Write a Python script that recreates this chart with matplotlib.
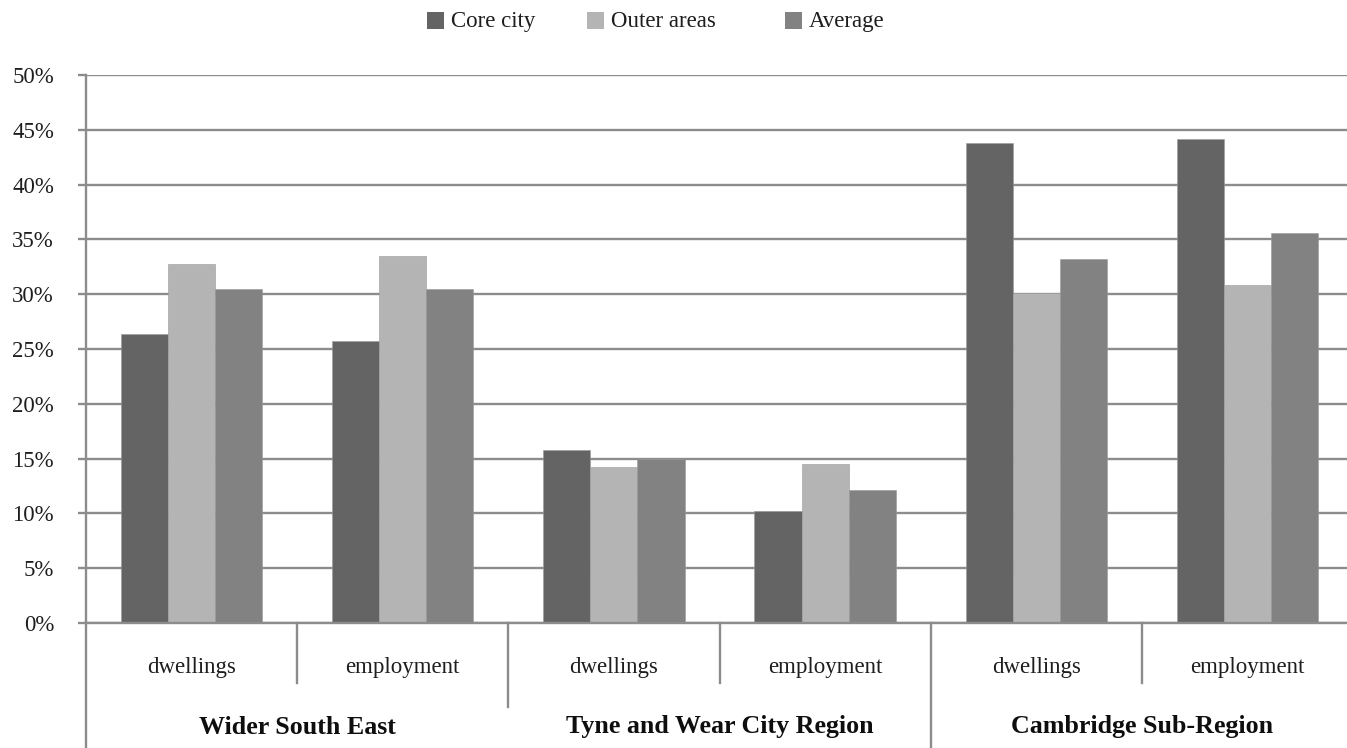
import matplotlib
matplotlib.use("Agg")
import matplotlib.pyplot as plt
from matplotlib.patches import Rectangle
import numpy as np

plt.rcParams['font.family'] = ['Liberation Serif', 'DejaVu Serif']

regions = ["Wider South East", "Tyne and Wear City Region", "Cambridge Sub-Region"]
measures = ["dwellings", "employment"]
series = ["Core city", "Outer areas", "Average"]
core_city = [26.4, 25.7, 15.8, 10.2, 43.8, 44.2]
outer_areas = [32.8, 33.5, 14.2, 14.5, 30.1, 30.8]
average = [30.5, 30.5, 15.0, 12.1, 33.2, 35.6]
yticks = [0, 5, 10, 15, 20, 25, 30, 35, 40, 45, 50]

colors = ["#646464", "#b4b4b4", "#828282"]
grid_c = "#8c8c8c"

W, H = 1347, 748
fig = plt.figure(figsize=(W / 100, H / 100), dpi=100)
left_px, right_px, top_px, bot_px = 86, 1353, 75, 623
ax = fig.add_axes([left_px / W, (H - bot_px) / H, (right_px - left_px) / W, (bot_px - top_px) / H])

n = len(core_city)
x = np.arange(n) + 0.5
bw = 0.223
for i, (vals, c) in enumerate(zip([core_city, outer_areas, average], colors)):
    ax.bar(x + (i - 1) * bw, vals, width=bw, color=c, edgecolor="#9a9a9a", linewidth=0.4, zorder=3, label=series[i])

ax.set_xlim(0, n)
ax.set_ylim(0, 50)
ax.set_yticks(yticks)
ax.set_yticklabels([f"{v}%" for v in yticks], fontsize=16.5, color="#1e1e1e")
ax.yaxis.grid(True, color=grid_c, linewidth=1.7, zorder=1)
ax.tick_params(axis='y', length=6, width=1.7, color=grid_c, pad=17)
ax.set_xticks([])
for s in ["top", "right", "bottom"]:
    ax.spines[s].set_visible(False)
ax.spines["left"].set_color(grid_c)
ax.spines["left"].set_linewidth(1.7)
ax.axhline(0, color=grid_c, linewidth=1.7, zorder=4, clip_on=False)

trans = ax.get_xaxis_transform()
ah = bot_px - top_px
# left axis continues through category area
ax.plot([0, 0], [0, -(748 - bot_px) / ah], transform=trans, color=grid_c, lw=1.7, clip_on=False)
# separators between measures
for k in [1, 3, 5]:
    ax.plot([k, k], [0, -60 / ah], transform=trans, color=grid_c, lw=1.7, clip_on=False)
# separators between regions
ax.plot([2, 2], [0, -84 / ah], transform=trans, color=grid_c, lw=1.7, clip_on=False)
ax.plot([4, 4], [0, -(748 - bot_px) / ah], transform=trans, color=grid_c, lw=1.7, clip_on=False)

for i in range(n):
    ax.text(x[i], -(668 - bot_px) / ah, measures[i % 2], transform=trans, ha="center", va="center", fontsize=16.5, color="#1e1e1e")
for j, r in enumerate(regions):
    ax.text(2 * j + 1, -(727 - bot_px) / ah, r, transform=trans, ha="center", va="center", fontsize=18.7, fontweight="bold", color="#0e0e0e")

# legend
leg_sq = [427, 587, 785]
for sx, c, lab in zip(leg_sq, colors, series):
    fig.patches.append(Rectangle((sx / W, (H - 29) / H), 17 / W, 17 / H, transform=fig.transFigure, facecolor=c, edgecolor="none"))
    fig.text((sx + 24) / W, (H - 27) / H, lab, ha="left", va="baseline", fontsize=16.5, color="#1e1e1e")

fig.savefig("out.png", dpi=100)
